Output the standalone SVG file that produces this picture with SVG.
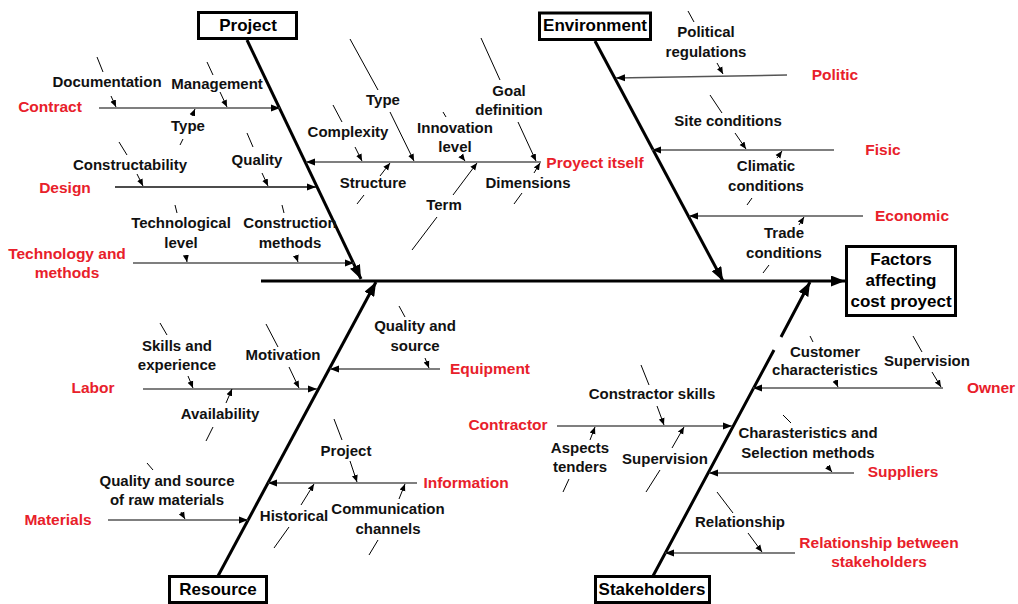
<svg xmlns="http://www.w3.org/2000/svg" width="1018" height="604" viewBox="0 0 1018 604">
<defs>
<style>
text{font-family:"Liberation Sans",Arial,sans-serif;font-weight:bold;text-anchor:middle}
.lbl{font-size:15px;fill:#111}
.red{font-size:15.5px;fill:#e8202a}
.bt{font-size:17px;fill:#000}
.box{fill:#fff;stroke:#000;stroke-width:3}
.bone{fill:none;stroke:#000;stroke-width:3;marker-end:url(#big)}
.spine{fill:none;stroke:#000;stroke-width:3;marker-end:url(#big)}
.branch{fill:none;stroke:#555;stroke-width:1.5;marker-end:url(#mid)}
.sub{fill:none;stroke:#000;stroke-width:1;marker-end:url(#small)}
</style>
<marker id="big" markerUnits="userSpaceOnUse" markerWidth="15" markerHeight="11" refX="14" refY="5.5" orient="auto"><path d="M0,0 L14,5.5 L0,11 z" fill="#000"/></marker>
<marker id="mid" markerUnits="userSpaceOnUse" markerWidth="10" markerHeight="8" refX="9" refY="4" orient="auto"><path d="M0,0.5 L9,4 L0,7.5 z" fill="#000"/></marker>
<marker id="small" markerUnits="userSpaceOnUse" markerWidth="8" markerHeight="7" refX="7" refY="3.5" orient="auto"><path d="M0,0.5 L7,3.5 L0,6.5 z" fill="#000"/></marker>
</defs>
<rect width="1018" height="604" fill="#fff"/>

<g id="connectors">
<path class="spine" d="M261,281 L845,281"/>
<path class="bone" d="M247,40 L361,279"/>
<path class="bone" d="M595,41 L723,281"/>
<path class="bone" d="M218,576 L376,282"/>
<path class="bone" d="M653,576 L774,350 M781,337 L810,282"/>

<path class="branch" d="M99,108 L280,108"/>
<path class="branch" d="M115,187 L316,187" style="stroke:#111"/>
<path class="branch" d="M133,263 L354,263"/>
<path class="branch" d="M541,162 L306,162"/>
<path class="branch" d="M787,75 L616,78"/>
<path class="branch" d="M834,150 L652,150"/>
<path class="branch" d="M863,216 L689,216"/>
<path class="branch" d="M143,389 L317,389"/>
<path class="branch" d="M440,369 L330,369"/>
<path class="branch" d="M108,520 L248,520"/>
<path class="branch" d="M417,483 L268,483"/>
<path class="branch" d="M943,388 L753,388"/>
<path class="branch" d="M557,426 L732,426"/>
<path class="branch" d="M854,473 L709,473"/>
<path class="branch" d="M795,553 L665,553"/>

<path class="sub" d="M97,57 L103,72 M111,96 L116,107"/>
<path class="sub" d="M207,62 L213,75 M220,92 L227,107"/>
<path class="sub" d="M180,145 L183,139 M192,116 L195,109"/>
<path class="sub" d="M119,142 L127,155 M137,174 L143,186"/>
<path class="sub" d="M247,133 L253,147 M262,173 L268,186"/>
<path class="sub" d="M175,205 L177,213 M186,256 L187,262"/>
<path class="sub" d="M282,205 L284,213 M296,256 L298,262"/>
<path class="sub" d="M333,105 L342,122 M355,147 L362,161"/>
<path class="sub" d="M350,39 L378,90 M390,112 L414,161"/>
<path class="sub" d="M443,112 L446,117 M462,157 L465,161"/>
<path class="sub" d="M481,38 L500,80 M518,122 L536,161"/>
<path class="sub" d="M357,204 L364,195 M380,176 L390,163"/>
<path class="sub" d="M412,250 L437,217 M453,195 L477,163"/>
<path class="sub" d="M514,204 L522,193 M534,173 L540,163"/>
<path class="sub" d="M688,11 L694,22 M717,63 L723,74"/>
<path class="sub" d="M710,95 L722,113 M735,133 L746,149"/>
<path class="sub" d="M747,205 L752,198 M777,158 L782,151"/>
<path class="sub" d="M763,273 L769,265 M799,225 L804,217"/>
<path class="sub" d="M160,323 L167,335 M188,376 L193,388"/>
<path class="sub" d="M266,324 L278,347 M289,367 L299,388"/>
<path class="sub" d="M206,441 L213,427 M226,403 L232,389"/>
<path class="sub" d="M399,306 L405,317 M425,358 L429,368"/>
<path class="sub" d="M147,463 L153,470 M181,512 L185,519"/>
<path class="sub" d="M334,419 L342,440 M350,461 L357,482"/>
<path class="sub" d="M274,548 L289,527 M301,505 L314,484"/>
<path class="sub" d="M369,555 L378,540 M399,499 L405,484"/>
<path class="sub" d="M810,336 L813,342 M835,380 L838,387"/>
<path class="sub" d="M913,336 L922,352 M932,372 L941,387"/>
<path class="sub" d="M641,365 L649,385 M657,406 L664,425"/>
<path class="sub" d="M563,492 L569,479 M590,440 L595,427"/>
<path class="sub" d="M646,492 L660,470 M672,448 L684,427"/>
<path class="sub" d="M783,415 L791,423 M827,466 L832,472"/>
<path class="sub" d="M717,492 L733,513 M748,533 L762,552"/>
</g>

<g id="effect"><rect class="box" x="846.5" y="246.5" width="109" height="69"/>
<text class="bt" x="901" y="265">Factors</text><text class="bt" x="901" y="286">affecting</text><text class="bt" x="901" y="307">cost proyect</text></g>
<g id="project"><rect class="box" x="198.5" y="12.5" width="98" height="26"/><text class="bt" x="248" y="31">Project</text></g>
<g id="environment"><rect class="box" x="539.5" y="13" width="111" height="26.5"/><text class="bt" x="595" y="31">Environment</text></g>
<g id="resource"><rect class="box" x="169.5" y="576.5" width="97" height="26"/><text class="bt" x="218" y="595">Resource</text></g>
<g id="stakeholders"><rect class="box" x="595.5" y="576.5" width="114" height="26"/><text class="bt" x="652" y="595">Stakeholders</text></g>

<g id="contract"><text class="red" x="50" y="112">Contract</text></g>
<g id="design"><text class="red" x="65" y="193">Design</text></g>
<g id="technology"><text class="red" x="67" y="259">Technology and</text><text class="red" x="67" y="278">methods</text></g>
<g id="proyect-itself"><text class="red" x="595" y="168">Proyect itself</text></g>
<g id="politic"><text class="red" x="835" y="80">Politic</text></g>
<g id="fisic"><text class="red" x="883" y="155">Fisic</text></g>
<g id="economic"><text class="red" x="912" y="221">Economic</text></g>
<g id="labor"><text class="red" x="93" y="393">Labor</text></g>
<g id="equipment"><text class="red" x="490" y="374">Equipment</text></g>
<g id="materials"><text class="red" x="58" y="525">Materials</text></g>
<g id="information"><text class="red" x="466" y="488">Information</text></g>
<g id="owner"><text class="red" x="991" y="393">Owner</text></g>
<g id="contractor"><text class="red" x="508" y="430">Contractor</text></g>
<g id="suppliers"><text class="red" x="903" y="477">Suppliers</text></g>
<g id="relationship-between"><text class="red" x="879" y="548">Relationship between</text><text class="red" x="879" y="567">stakeholders</text></g>

<g id="documentation"><text class="lbl" x="107" y="87">Documentation</text></g>
<g id="management"><text class="lbl" x="217" y="89">Management</text></g>
<g id="type-contract"><text class="lbl" x="188" y="131">Type</text></g>
<g id="constructability"><text class="lbl" x="130" y="170">Constructability</text></g>
<g id="quality-design"><text class="lbl" x="257" y="165">Quality</text></g>
<g id="technological-level"><text class="lbl" x="181" y="228">Technological</text><text class="lbl" x="181" y="248">level</text></g>
<g id="construction-methods"><text class="lbl" x="290" y="228">Construction</text><text class="lbl" x="290" y="248">methods</text></g>
<g id="complexity"><text class="lbl" x="348" y="137">Complexity</text></g>
<g id="type-proyect"><text class="lbl" x="383" y="105">Type</text></g>
<g id="innovation-level"><text class="lbl" x="455" y="133">Innovation</text><text class="lbl" x="455" y="152">level</text></g>
<g id="goal-definition"><text class="lbl" x="509" y="96">Goal</text><text class="lbl" x="509" y="115">definition</text></g>
<g id="structure"><text class="lbl" x="373" y="188">Structure</text></g>
<g id="term"><text class="lbl" x="444" y="210">Term</text></g>
<g id="dimensions"><text class="lbl" x="528" y="188">Dimensions</text></g>
<g id="political-regulations"><text class="lbl" x="706" y="37">Political</text><text class="lbl" x="706" y="57">regulations</text></g>
<g id="site-conditions"><text class="lbl" x="728" y="126">Site conditions</text></g>
<g id="climatic-conditions"><text class="lbl" x="766" y="171">Climatic</text><text class="lbl" x="766" y="191">conditions</text></g>
<g id="trade-conditions"><text class="lbl" x="784" y="238">Trade</text><text class="lbl" x="784" y="258">conditions</text></g>
<g id="skills"><text class="lbl" x="177" y="351">Skills and</text><text class="lbl" x="177" y="370">experience</text></g>
<g id="motivation"><text class="lbl" x="283" y="360">Motivation</text></g>
<g id="availability"><text class="lbl" x="220" y="419">Availability</text></g>
<g id="quality-source"><text class="lbl" x="415" y="331">Quality and</text><text class="lbl" x="415" y="351">source</text></g>
<g id="raw-materials"><text class="lbl" x="167" y="486">Quality and source</text><text class="lbl" x="167" y="505">of raw materials</text></g>
<g id="project-info"><text class="lbl" x="346" y="456">Project</text></g>
<g id="historical"><text class="lbl" x="294" y="521">Historical</text></g>
<g id="communication"><text class="lbl" x="388" y="514">Communication</text><text class="lbl" x="388" y="534">channels</text></g>
<g id="customer"><text class="lbl" x="825" y="357">Customer</text><text class="lbl" x="825" y="375">characteristics</text></g>
<g id="supervision-owner"><text class="lbl" x="927" y="366">Supervision</text></g>
<g id="contractor-skills"><text class="lbl" x="652" y="399">Constractor skills</text></g>
<g id="aspects-tenders"><text class="lbl" x="580" y="453">Aspects</text><text class="lbl" x="580" y="472">tenders</text></g>
<g id="supervision-contractor"><text class="lbl" x="665" y="464">Supervision</text></g>
<g id="selection-methods"><text class="lbl" x="808" y="438">Charasteristics and</text><text class="lbl" x="808" y="458">Selection methods</text></g>
<g id="relationship"><text class="lbl" x="740" y="527">Relationship</text></g>
</svg>
